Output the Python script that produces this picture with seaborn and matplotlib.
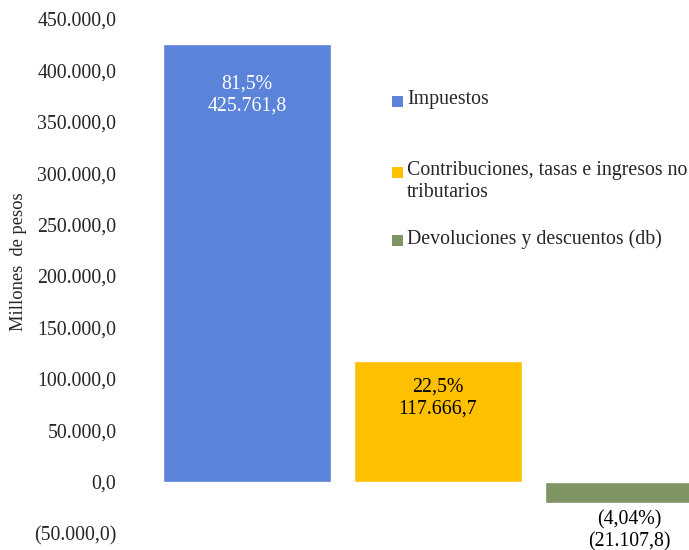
import matplotlib
matplotlib.use("Agg")
import matplotlib.pyplot as plt
import matplotlib.patches as mpatches
import seaborn as sns
import pandas as pd

# === Data ===
categories = ["Impuestos", "Contribuciones, tasas e ingresos no\ntributarios",
              "Devoluciones y descuentos (db)"]
values = [425761.8, 117666.7, -21107.8]
share_labels = ["81,5%", "22,5%", "(4,04%)"]
colors = ["#5A83D9", "#FFC000", "#7F9463"]


def fmt_es(v, dec=1):
    s = f"{abs(v):,.{dec}f}".replace(",", "X").replace(".", ",").replace("X", ".")
    return f"({s})" if v < 0 else s


df = pd.DataFrame({"cat": categories, "value": values})

sns.set_style("white")
plt.rcParams['font.family'] = ['Liberation Serif', 'DejaVu Serif']
FS = 14.3

fig = plt.figure(figsize=(6.89, 5.5), dpi=100)
ax = fig.add_axes([140 / 689, 17 / 550, 549 / 689, 514 / 550])

sns.barplot(data=df, x="cat", y="value", hue="cat", palette=colors,
            dodge=False, width=0.88, legend=False, ax=ax, saturation=1)

ax.set_ylim(-50000, 450000)
ax.set_xlim(-0.56, 2.314)
ticks = list(range(-50000, 450001, 50000))
ax.set_yticks(ticks)
ax.set_yticklabels([fmt_es(t) for t in ticks], fontsize=FS)
ax.tick_params(axis="y", length=0, pad=17)
ax.set_xticks([])
ax.set_xlabel("")
ax.set_ylabel("Millones  de pesos", fontsize=FS - 1)
ax.yaxis.set_label_coords(-0.205, 0.527)
for sp in ax.spines.values():
    sp.set_visible(False)

# === Bar labels ===
label_colors = ["white", "black", "black"]
offsets = [-31, -17, -7]
for i, (v, s) in enumerate(zip(values, share_labels)):
    ax.annotate(f"{s}\n{fmt_es(v)}", xy=(i, v),
                xytext=(0, offsets[i] * 0.72), textcoords="offset points",
                ha="center", va="top", fontsize=FS, color=label_colors[i],
                linespacing=1.2)

# === Legend (drawn manually to keep Excel-like spacing) ===
legend_rows = [101, 172, 240]
for lab, col, yy in zip(categories, colors, legend_rows):
    fig.patches.append(mpatches.Rectangle((392 / 689, 1 - (yy + 6) / 550), 11 / 689, 11 / 550,
                                          transform=fig.transFigure, facecolor=col,
                                          edgecolor="none"))
    fig.text(407 / 689, 1 - (yy - 11) / 550, lab, fontsize=FS, va="top", ha="left",
             linespacing=1.2)

fig.savefig("out.png", dpi=100)
